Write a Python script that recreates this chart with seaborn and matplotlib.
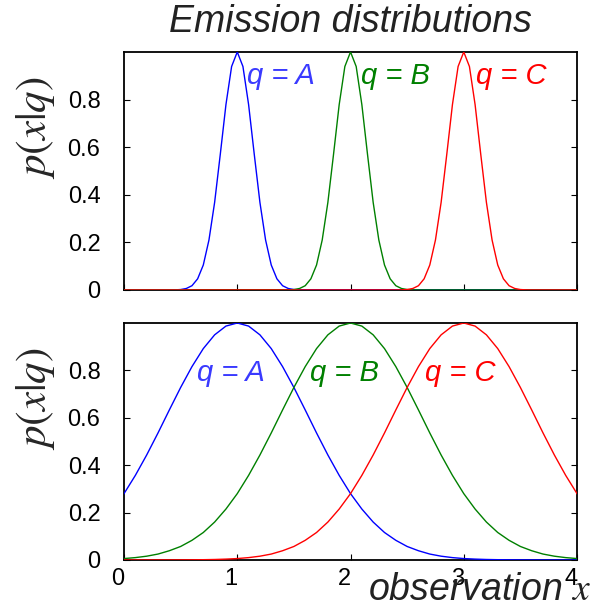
import matplotlib
matplotlib.use("Agg")
import matplotlib.pyplot as plt
import matplotlib.transforms as mtransforms
import pandas as pd
import seaborn as sns

# ── data ─────────────────────────────────────────────────────────────────────
STATES = ["A", "B", "C"]
STATE_MEANS = [1, 2, 3]
STATE_COLORS = {"A": "#0000ff", "B": "#008000", "C": "#ff0000"}
LABEL_COLORS = {"A": "#3a3aff", "B": "#008000", "C": "#ff0000"}

# narrow emission shape (top panel), offset from the state mean
NARROW_OFFSET = [-3.0, -0.6, -0.55, -0.5, -0.45, -0.4, -0.35, -0.3, -0.25, -0.2,
                 -0.15, -0.1, -0.05, 0.0, 0.05, 0.1, 0.15, 0.2, 0.25, 0.3, 0.35,
                 0.4, 0.45, 0.5, 0.55, 0.6, 3.0]
NARROW_P = [0.0, 0.0001, 0.0005, 0.0019, 0.0063, 0.018, 0.047, 0.105, 0.210,
            0.368, 0.570, 0.779, 0.939, 1.0, 0.939, 0.779, 0.570, 0.368, 0.210,
            0.105, 0.047, 0.018, 0.0063, 0.0019, 0.0005, 0.0001, 0.0]

# wide emission shape (bottom panel), offset from the state mean
WIDE_OFFSET = [-3.0, -2.9, -2.8, -2.7, -2.6, -2.5, -2.4, -2.3, -2.2, -2.1,
               -2.0, -1.9, -1.8, -1.7, -1.6, -1.5, -1.4, -1.3, -1.2, -1.1,
               -1.0, -0.9, -0.8, -0.7, -0.6, -0.5, -0.4, -0.3, -0.2, -0.1,
               0.0, 0.1, 0.2, 0.3, 0.4, 0.5, 0.6, 0.7, 0.8, 0.9,
               1.0, 1.1, 1.2, 1.3, 1.4, 1.5, 1.6, 1.7, 1.8, 1.9,
               2.0, 2.1, 2.2, 2.3, 2.4, 2.5, 2.6, 2.7, 2.8, 2.9, 3.0]
WIDE_P = [0.0, 0.0, 0.0, 0.0001, 0.0002, 0.0004, 0.0007, 0.0012, 0.0021, 0.0037,
          0.006, 0.010, 0.016, 0.025, 0.039, 0.057, 0.083, 0.116, 0.160, 0.215,
          0.280, 0.357, 0.443, 0.536, 0.633, 0.728, 0.816, 0.892, 0.950, 0.987,
          1.0, 0.987, 0.950, 0.892, 0.816, 0.728, 0.633, 0.536, 0.443, 0.357,
          0.280, 0.215, 0.160, 0.116, 0.083, 0.057, 0.039, 0.025, 0.016, 0.010,
          0.006, 0.0037, 0.0021, 0.0012, 0.0007, 0.0004, 0.0002, 0.0001, 0.0, 0.0, 0.0]

X_TICKS = [0, 1, 2, 3, 4]
Y_TICKS = [0, 0.2, 0.4, 0.6, 0.8]
Y_TICK_LABELS = ["0", "0.2", "0.4", "0.6", "0.8"]

# label anchor (data coords) per panel
TOP_LABEL_X = [1.09, 2.09, 3.11]
TOP_LABEL_Y = 0.90
BOT_LABEL_X = [0.645, 1.64, 2.66]
BOT_LABEL_Y = 0.79


def build_frame(offsets, probs):
    rows = []
    for state, mean in zip(STATES, STATE_MEANS):
        for d, p in zip(offsets, probs):
            rows.append({"state": state, "x": mean + d, "p": p})
    return pd.DataFrame(rows)


df_top = build_frame(NARROW_OFFSET, NARROW_P)
df_bot = build_frame(WIDE_OFFSET, WIDE_P)

# ── style ────────────────────────────────────────────────────────────────────
sns.set_style("ticks")
plt.rcParams["font.family"] = ["Liberation Sans", "DejaVu Sans"]
plt.rcParams["mathtext.fontset"] = "stix"

fig = plt.figure(figsize=(5.94, 6.10), dpi=100)
ax_top = fig.add_axes([0.2088, 0.5246, 0.7626, 0.3902])
ax_bot = fig.add_axes([0.2088, 0.0820, 0.7626, 0.3885])

panels = [
    (ax_top, df_top, TOP_LABEL_X, TOP_LABEL_Y, False),
    (ax_bot, df_bot, BOT_LABEL_X, BOT_LABEL_Y, True),
]

for ax, df, lab_x, lab_y, show_x in panels:
    sns.lineplot(data=df, x="x", y="p", hue="state", palette=STATE_COLORS,
                 sort=False, estimator=None, legend=False, linewidth=1.0,
                 ax=ax, zorder=3)
    for state, lx in zip(STATES, lab_x):
        ax.text(lx, lab_y, f"q = {state}", color=LABEL_COLORS[state],
                fontsize=21, style="italic", ha="left", va="center")

    ax.set_xlim(0, 4)
    ax.set_ylim(0, 1)
    ax.set_xticks(X_TICKS)
    ax.set_yticks(Y_TICKS)
    ax.set_yticklabels(Y_TICK_LABELS)
    ax.tick_params(axis="both", direction="in", length=4, width=0.8,
                   labelsize=17, colors="black")
    ax.tick_params(axis="y", right=True, pad=17)
    ax.tick_params(axis="x", pad=6, labelbottom=show_x)
    for sp in ax.spines.values():
        sp.set_linewidth(1.3)
        sp.set_color("black")
        sp.set_visible(True)

    ax.set_xlabel("")
    ax.set_ylabel(r"$p(x|q)$", fontsize=31, rotation=90)
    ax.yaxis.set_label_coords(-0.148, 0.68)

# nudge the x tick labels a bit to the left, like the original
shift = mtransforms.ScaledTranslation(-6 / 100, 0, fig.dpi_scale_trans)
for lbl in ax_bot.get_xticklabels():
    lbl.set_transform(lbl.get_transform() + shift)

fig.text(0.59, 0.964, "Emission distributions", fontsize=27, style="italic",
         color="#222222", ha="center", va="center")
fig.text(0.62, 0.033, "observation $x$", fontsize=27, style="italic",
         color="#222222", ha="left", va="center")

fig.savefig("out.png", dpi=100)
